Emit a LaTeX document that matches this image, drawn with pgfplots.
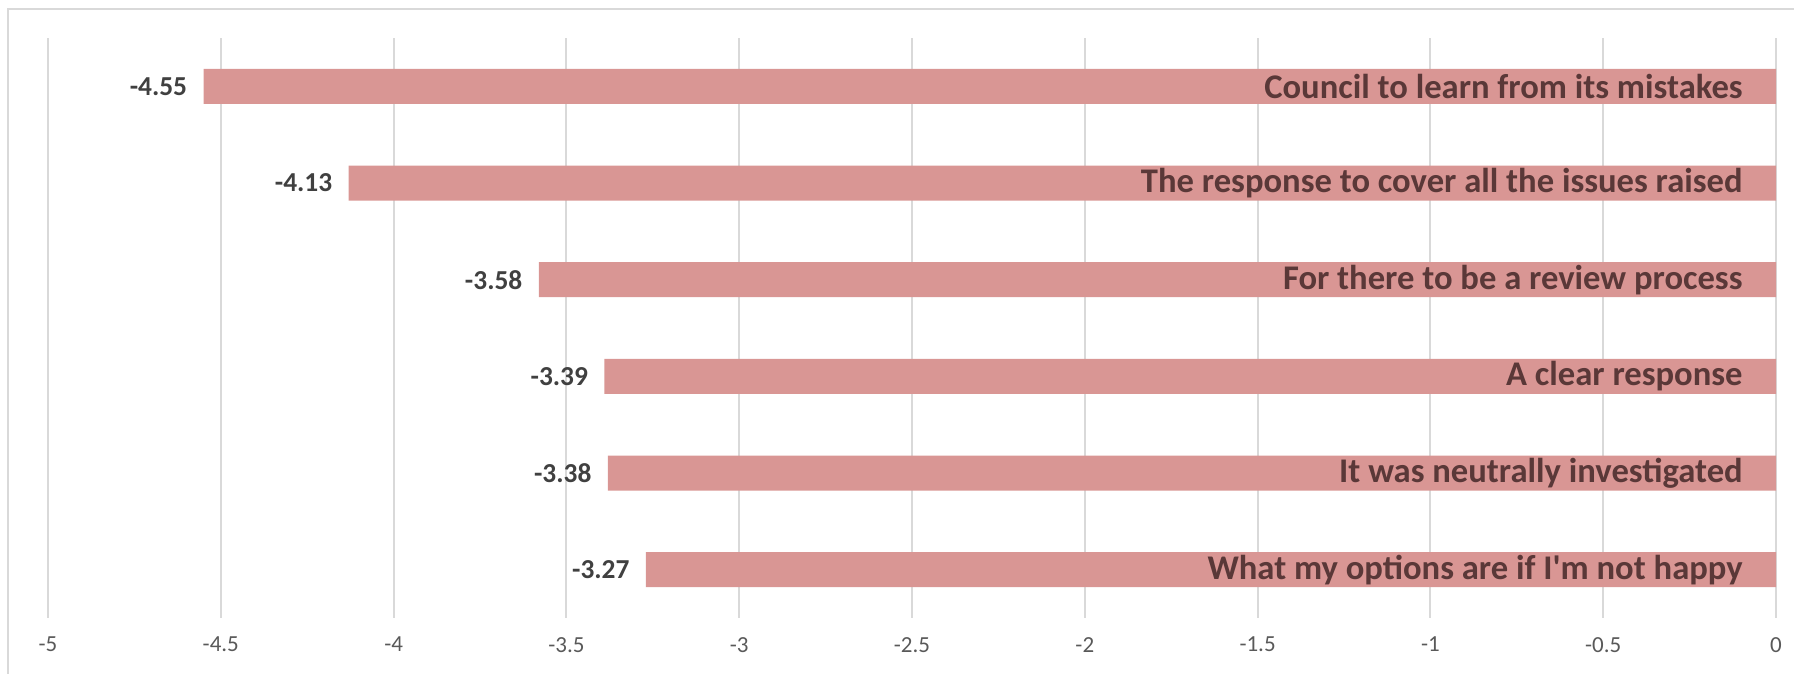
\documentclass[border=0pt]{standalone}
\usepackage{pgfplots}
\pgfplotsset{compat=1.18}
\usepackage{fontspec}
\setmainfont{Carlito}[Ligatures=TeXOff]
\definecolor{barpink}{HTML}{D99694}
\definecolor{catlabel}{HTML}{5A3838}
\definecolor{vallabel}{HTML}{404040}
\definecolor{ticklabel}{HTML}{595959}
\definecolor{gridgray}{HTML}{D9D9D9}

\pgfplotstableread{
y  val
1  -4.55
2  -4.13
3  -3.58
4  -3.39
5  -3.38
6  -3.27
}\scores

\begin{document}
\begin{tikzpicture}
% page: 897pt x 337pt
\useasboundingbox (0,0) rectangle (897pt,-337pt);
\clip (0,0) rectangle (897pt,-337pt);
% chart frame
\draw[gridgray, line width=1pt] (4pt,-4.5pt) rectangle (905pt,-345pt);
\begin{axis}[
  at={(24pt,-309pt)}, anchor=south west,
  scale only axis,
  width=864pt, height=290pt,
  xmin=-5, xmax=0,
  ymin=0.5, ymax=6.5,
  y dir=reverse,
  xbar, bar width=17.5pt,
  axis line style={draw=none},
  hide y axis,
  xtick={-5,-4.5,-4,-3.5,-3,-2.5,-2,-1.5,-1,-0.5,0},
  xticklabels={-5,-4.5,-4,-3.5,-3,-2.5,-2,-1.5,-1,-0.5,0},
  major tick length=0pt,
  xmajorgrids,
  grid style={gridgray, line width=1pt},
  xticklabel style={font=\fontsize{11.5}{13}\selectfont, text=ticklabel, yshift=-6pt},
  /pgf/number format/assume math mode=true,
  clip=false,
]
\addplot[fill=barpink, draw=none,
  point meta=x,
  nodes near coords={\pgfmathprintnumber[fixed,precision=2,zerofill]{\pgfplotspointmeta}},
  nodes near coords style={anchor=east, xshift=-8pt, font=\bfseries\fontsize{13.7}{15}\selectfont, text=vallabel, inner sep=0pt},
] table[x=val, y=y] {\scores};

\begin{scope}[every node/.style={anchor=east, xshift=-16.5pt, inner sep=0pt, font=\bfseries\fontsize{17.3}{19}\selectfont, text=catlabel}]
\node at (axis cs:0,1) {Council to learn from its mistakes};
\node at (axis cs:0,2) {The response to cover all the issues raised};
\node at (axis cs:0,3) {For there to be a review process};
\node at (axis cs:0,4) {A clear response};
\node at (axis cs:0,5) {It was neutrally investigated};
\node at (axis cs:0,6) {What my options are if I'm not happy};
\end{scope}
\end{axis}
\end{tikzpicture}
\end{document}
